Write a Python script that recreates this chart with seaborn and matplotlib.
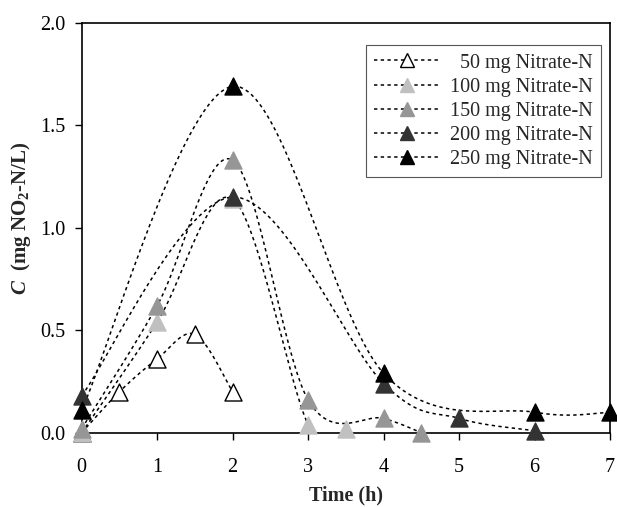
import numpy as np
import pandas as pd
import matplotlib
matplotlib.use("Agg")
import matplotlib.pyplot as plt
from matplotlib.lines import Line2D
import seaborn as sns

# ---- data ----
labels = ["50 mg Nitrate-N", "100 mg Nitrate-N", "150 mg Nitrate-N",
          "200 mg Nitrate-N", "250 mg Nitrate-N"]
t50 = [0, 0.5, 1, 1.5, 2]
c50 = [0.0, 0.20, 0.36, 0.48, 0.20]
t100 = [0, 1, 2, 3, 3.5]
c100 = [0.0, 0.54, 1.14, 0.04, 0.02]
t150 = [0, 1, 2, 3, 4, 4.5]
c150 = [0.02, 0.62, 1.33, 0.16, 0.07, 0.0]
t200 = [0, 2, 4, 5, 6]
c200 = [0.18, 1.15, 0.24, 0.07, 0.01]
t250 = [0, 2, 4, 6, 7]
c250 = [0.11, 1.69, 0.29, 0.10, 0.10]

series_t = [t50, t100, t150, t200, t250]
series_c = [c50, c100, c150, c200, c250]
face = ["white", "#c0c0c0", "#969696", "#333333", "#000000"]
edge = ["black", "#c0c0c0", "#969696", "#333333", "#000000"]


def smooth(x, y, n=40):
    """Excel-like smoothed line (Bezier through the points)."""
    x = np.asarray(x, float); y = np.asarray(y, float)
    P = np.column_stack([x, y])
    out = []
    m = len(P)
    for i in range(m - 1):
        p0 = P[i - 1] if i > 0 else P[i]
        p1 = P[i]; p2 = P[i + 1]
        p3 = P[i + 2] if i + 2 < m else P[i + 1]
        c1 = p1 + (p2 - p0) / 6.0
        c2 = p2 - (p3 - p1) / 6.0
        s = np.linspace(0, 1, n)[:, None]
        seg = ((1 - s) ** 3) * p1 + 3 * ((1 - s) ** 2) * s * c1 + 3 * (1 - s) * s ** 2 * c2 + s ** 3 * p2
        out.append(seg if i == 0 else seg[1:])
    out = np.vstack(out)
    return out[:, 0], out[:, 1]


sns.set_style("ticks")
plt.rcParams["font.family"] = ["Liberation Serif", "DejaVu Serif"]
plt.rcParams["mathtext.fontset"] = "custom"
plt.rcParams["mathtext.rm"] = "Liberation Serif:bold"
plt.rcParams["mathtext.it"] = "Liberation Serif:italic:bold"
plt.rcParams["mathtext.bf"] = "Liberation Serif:bold"

fig = plt.figure(figsize=(6.17, 5.07), dpi=100)
ax = fig.add_axes([0.1324, 0.1465, 0.9887 - 0.1324, 0.955 - 0.1465])

dash = (0, (2.2, 2.2))
for i, (t, c) in enumerate(zip(series_t, series_c)):
    sx, sy = smooth(t, c)
    df_line = pd.DataFrame({"t": sx, "c": sy})
    sns.lineplot(data=df_line, x="t", y="c", sort=False, ax=ax, color="black",
                 lw=1.1, linestyle=dash, zorder=2 + i * 0.1)
for i, (t, c) in enumerate(zip(series_t, series_c)):
    df_pt = pd.DataFrame({"t": t, "c": c})
    sns.scatterplot(data=df_pt, x="t", y="c", ax=ax, marker="^", s=150,
                    color=face[i], edgecolor=edge[i], linewidth=1.0,
                    zorder=5 + i, clip_on=False)

ax.set_xlim(0, 7)
ax.set_ylim(0, 2.0)
ax.set_xticks(range(0, 8))
ax.set_yticks([0, 0.5, 1.0, 1.5, 2.0])
ax.set_yticklabels(["0.0", "0.5", "1.0", "1.5", "2.0"])
ax.tick_params(axis="both", direction="out", length=5, width=1, labelsize=14.5,
               colors="black")
ax.tick_params(axis="y", pad=7)
ax.tick_params(axis="x", pad=13)
for sp in ax.spines.values():
    sp.set_visible(True)
    sp.set_linewidth(1.2)
    sp.set_color("black")

ax.set_xlabel("Time (h)", fontsize=14.5, fontweight="bold", labelpad=6)
ax.set_ylabel(r"$C$  (mg NO$_{2}$-N/L)", fontsize=15, fontweight="bold")
ax.yaxis.set_label_coords(-0.092, 0.524)

handles = [Line2D([], [], color="black", lw=1.1, linestyle=(0, (2.2, 2.2)),
                  marker="^", markersize=10, markerfacecolor=face[i],
                  markeredgecolor=edge[i], markeredgewidth=1.0)
           for i in range(5)]
leg = ax.legend(handles, labels, loc="upper right", bbox_to_anchor=(0.982, 0.945),
                fontsize=14.5, frameon=True, fancybox=False, framealpha=1,
                edgecolor="#555555", handlelength=3.3, handletextpad=0.45,
                labelspacing=0.25, borderpad=0.4, borderaxespad=0.0)
leg.get_frame().set_linewidth(0.8)

# right-align the legend labels
fig.canvas.draw()
renderer = fig.canvas.get_renderer()
widths = [t.get_window_extent(renderer).width for t in leg.get_texts()]
wmax = max(widths)
for t, w in zip(leg.get_texts(), widths):
    t.set_position((wmax - w, 0))

fig.savefig("out.png", dpi=100)
